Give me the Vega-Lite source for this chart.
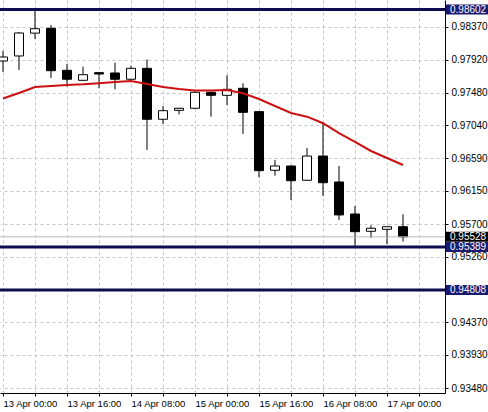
{
  "$schema": "https://vega.github.io/schema/vega-lite/v6.json",
  "width": 445,
  "height": 393,
  "padding": {"left": 0, "top": 0, "right": 43, "bottom": 19},
  "autosize": "none",
  "background": "white",
  "config": {
    "view": {"stroke": null},
    "font": "Liberation Sans"
  },
  "datasets": {
    "candles": [
      {"t": "2015-04-13T00:00:00Z", "o": 0.97906, "h": 0.98041, "l": 0.97757, "c": 0.97960, "ma": 0.97399},
      {"t": "2015-04-13T04:00:00Z", "o": 0.97974, "h": 0.98298, "l": 0.97784, "c": 0.98285, "ma": 0.97473},
      {"t": "2015-04-13T08:00:00Z", "o": 0.98283, "h": 0.98605, "l": 0.98204, "c": 0.98343, "ma": 0.97555},
      {"t": "2015-04-13T12:00:00Z", "o": 0.98348, "h": 0.98393, "l": 0.97676, "c": 0.97775, "ma": 0.97568},
      {"t": "2015-04-13T16:00:00Z", "o": 0.97780, "h": 0.97866, "l": 0.97559, "c": 0.97659, "ma": 0.97582},
      {"t": "2015-04-13T20:00:00Z", "o": 0.97645, "h": 0.97829, "l": 0.97640, "c": 0.97721, "ma": 0.97591},
      {"t": "2015-04-14T00:00:00Z", "o": 0.97748, "h": 0.97757, "l": 0.97537, "c": 0.97730, "ma": 0.97605},
      {"t": "2015-04-14T04:00:00Z", "o": 0.97744, "h": 0.97883, "l": 0.97523, "c": 0.97659, "ma": 0.97622},
      {"t": "2015-04-14T08:00:00Z", "o": 0.97659, "h": 0.97843, "l": 0.97655, "c": 0.97807, "ma": 0.97636},
      {"t": "2015-04-14T12:00:00Z", "o": 0.97807, "h": 0.97929, "l": 0.96703, "c": 0.97118, "ma": 0.97595},
      {"t": "2015-04-14T16:00:00Z", "o": 0.97118, "h": 0.97298, "l": 0.97054, "c": 0.97234, "ma": 0.97555},
      {"t": "2015-04-14T20:00:00Z", "o": 0.97239, "h": 0.97271, "l": 0.97185, "c": 0.97267, "ma": 0.97527},
      {"t": "2015-04-15T00:00:00Z", "o": 0.97267, "h": 0.97494, "l": 0.97264, "c": 0.97483, "ma": 0.97507},
      {"t": "2015-04-15T04:00:00Z", "o": 0.97483, "h": 0.97487, "l": 0.97153, "c": 0.97442, "ma": 0.97507},
      {"t": "2015-04-15T08:00:00Z", "o": 0.97442, "h": 0.97713, "l": 0.97311, "c": 0.97523, "ma": 0.97514},
      {"t": "2015-04-15T12:00:00Z", "o": 0.97537, "h": 0.97605, "l": 0.96919, "c": 0.97212, "ma": 0.97469},
      {"t": "2015-04-15T16:00:00Z", "o": 0.97221, "h": 0.97223, "l": 0.96333, "c": 0.96423, "ma": 0.97392},
      {"t": "2015-04-15T20:00:00Z", "o": 0.96428, "h": 0.96567, "l": 0.96355, "c": 0.96486, "ma": 0.97298},
      {"t": "2015-04-16T00:00:00Z", "o": 0.96486, "h": 0.96493, "l": 0.96026, "c": 0.96287, "ma": 0.97203},
      {"t": "2015-04-16T04:00:00Z", "o": 0.96293, "h": 0.96730, "l": 0.96290, "c": 0.96621, "ma": 0.97153},
      {"t": "2015-04-16T08:00:00Z", "o": 0.96621, "h": 0.97077, "l": 0.96081, "c": 0.96260, "ma": 0.97064},
      {"t": "2015-04-16T12:00:00Z", "o": 0.96270, "h": 0.96486, "l": 0.95756, "c": 0.95824, "ma": 0.96932},
      {"t": "2015-04-16T16:00:00Z", "o": 0.95837, "h": 0.95945, "l": 0.95389, "c": 0.95598, "ma": 0.96811},
      {"t": "2015-04-16T20:00:00Z", "o": 0.95603, "h": 0.95684, "l": 0.95513, "c": 0.95644, "ma": 0.96689},
      {"t": "2015-04-17T00:00:00Z", "o": 0.95630, "h": 0.95668, "l": 0.95427, "c": 0.95665, "ma": 0.96594},
      {"t": "2015-04-17T04:00:00Z", "o": 0.95665, "h": 0.95833, "l": 0.95463, "c": 0.95528, "ma": 0.96500}
    ],
    "levels": [
      {"p": 0.98602, "kind": "level"},
      {"p": 0.95389, "kind": "level"},
      {"p": 0.94808, "kind": "level"},
      {"p": 0.95528, "kind": "bid"}
    ]
  },
  "layer": [
    {
      "data": {"name": "candles"},
      "mark": {"type": "rule", "color": "black", "strokeWidth": 1},
      "encoding": {
        "x": {
          "field": "t", "type": "temporal",
          "scale": {"type": "utc", "nice": false, "padding": 0, "domain": [{"year": 2015, "month": 4, "date": 12, "hours": 23, "minutes": 15, "utc": true}, {"year": 2015, "month": 4, "date": 17, "hours": 14, "minutes": 30, "utc": true}]},
          "axis": {
            "title": null,
            "values": [1428883200000, 1428912000000, 1428940800000, 1428969600000, 1428998400000, 1429027200000, 1429056000000, 1429084800000, 1429113600000, 1429142400000, 1429171200000, 1429200000000, 1429228800000, 1429257600000],
            "tickCount": 40,
            "labelExpr": "(datum.value - 1428883200000) % 57600000 == 0 ? utcFormat(datum.value, '%d %b %H:%M') : ''",
            "labelAlign": "left",
            "labelFontSize": 9.5,
            "labelColor": "black",
            "labelPadding": 2,
            "labelOverlap": false,
            "labelFlush": false,
            "tickSize": 3,
            "tickColor": "black",
            "domainColor": "black",
            "grid": true,
            "gridColor": "#c4c4c4",
            "gridDash": [3, 3],
            "gridWidth": 1
          }
        },
        "y": {
          "field": "l", "type": "quantitative",
          "scale": {"domain": [0.93416, 0.98731], "nice": false, "zero": false, "padding": 0},
          "axis": {
            "orient": "right",
            "title": null,
            "values": [0.98370, 0.97920, 0.97480, 0.97040, 0.96590, 0.96150, 0.95700, 0.95260, 0.94815, 0.94370, 0.93930, 0.93480],
            "tickCount": 40,
            "labelExpr": "datum.value > 0.9481 && datum.value < 0.9482 ? '' : format(datum.value, '.5f')",
            "labelFontSize": 10,
            "labelColor": "black",
            "labelPadding": 3,
            "labelOverlap": false,
            "labelFlush": false,
            "tickSize": 3,
            "tickColor": "black",
            "domainColor": "black",
            "grid": true,
            "gridColor": "#c4c4c4",
            "gridDash": [3, 3],
            "gridWidth": 1
          }
        },
        "y2": {"field": "h"}
      }
    },
    {
      "data": {"name": "candles"},
      "mark": {"type": "bar", "width": 9, "stroke": "black", "strokeWidth": 1},
      "encoding": {
        "x": {"field": "t", "type": "temporal"},
        "y": {"field": "o", "type": "quantitative"},
        "y2": {"field": "c"},
        "fill": {"condition": {"test": "datum.o > datum.c", "value": "black"}, "value": "white"}
      }
    },
    {
      "data": {"name": "candles"},
      "mark": {"type": "line", "color": "#cc1111", "strokeWidth": 2},
      "encoding": {
        "x": {"field": "t", "type": "temporal"},
        "y": {"field": "ma", "type": "quantitative"}
      }
    },
    {
      "data": {"name": "levels"},
      "transform": [{"filter": "datum.kind == 'bid'"}],
      "mark": {"type": "rule", "color": "#b8b8b8", "strokeWidth": 1},
      "encoding": {"y": {"field": "p", "type": "quantitative"}}
    },
    {
      "data": {"name": "levels"},
      "transform": [{"filter": "datum.kind == 'level'"}],
      "mark": {"type": "rule", "color": "#0c0c4e", "strokeWidth": 3},
      "encoding": {"y": {"field": "p", "type": "quantitative"}}
    },
    {
      "data": {"name": "levels"},
      "mark": {"type": "rect", "height": 10, "clip": false},
      "encoding": {
        "x": {"value": {"expr": "width + 1"}},
        "x2": {"value": {"expr": "width + 43"}},
        "y": {"field": "p", "type": "quantitative"},
        "fill": {"field": "kind", "type": "nominal", "scale": {"domain": ["level", "bid"], "range": ["#1a1a70", "#000000"]}, "legend": null}
      }
    },
    {
      "data": {"name": "levels"},
      "mark": {"type": "text", "align": "left", "baseline": "middle", "dx": 5, "fontSize": 10, "color": "white", "clip": false},
      "encoding": {
        "x": {"value": {"expr": "width"}},
        "y": {"field": "p", "type": "quantitative"},
        "text": {"field": "p", "type": "quantitative", "format": ".5f"}
      }
    }
  ]
}
